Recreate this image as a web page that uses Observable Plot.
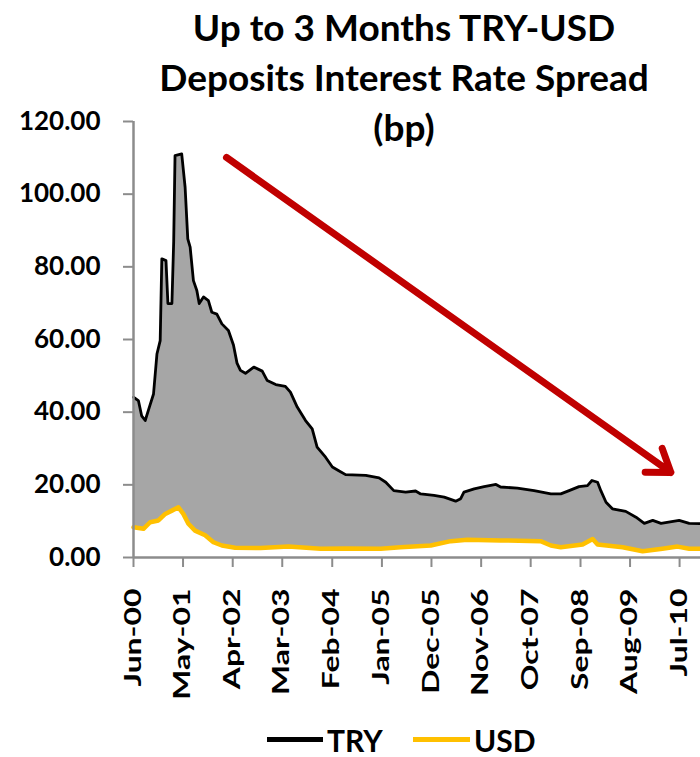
<!DOCTYPE html>
<html>
<head>
<meta charset="utf-8">
<script src="https://cdn.jsdelivr.net/npm/d3@7"></script>
<script src="https://cdn.jsdelivr.net/npm/@observablehq/plot@0.6"></script>
<style>
  body { margin: 0; background: #fff; }
  #wrap { position: relative; width: 700px; height: 757px; overflow: hidden;
          font-family: Lato, "Open Sans", sans-serif; font-weight: 700; color: #000; }
  #chart { position: absolute; left: 0; top: 0; }
  #title { position: absolute; left: 104px; width: 600px; top: 2px; text-align: center;
           font-size: 37px; line-height: 50px; }
  .leg { position: absolute; top: 722px; font-size: 30px; line-height: 36px; white-space: nowrap; }
  .sw { position: absolute; top: 737px; height: 5px; }
</style>
</head>
<body>
<div id="wrap">
  <div id="chart"></div>
  <div id="title">Up to 3 Months TRY-USD<br>Deposits Interest Rate Spread<br>(bp)</div>
  <div class="sw" style="left:267px;width:56px;background:#000;"></div>
  <div class="leg" style="left:327px;">TRY</div>
  <div class="sw" style="left:413px;width:57px;background:#FFC000;"></div>
  <div class="leg" style="left:474px;">USD</div>
</div>
<script>
// ---- data ----
const tryDates = ["2000-06-01","2000-07-04","2000-07-26","2000-08-19","2000-09-16","2000-10-14","2000-11-06","2000-11-28","2000-12-09","2001-01-06","2001-01-19","2001-02-15","2001-02-27","2001-03-08","2001-04-22","2001-05-15","2001-06-02","2001-06-18","2001-07-10","2001-08-02","2001-08-18","2001-09-16","2001-10-19","2001-11-11","2001-12-15","2002-01-18","2002-03-03","2002-04-06","2002-04-30","2002-05-23","2002-06-26","2002-08-21","2002-10-17","2002-11-20","2003-01-16","2003-03-22","2003-04-25","2003-06-10","2003-08-05","2003-09-19","2003-10-22","2003-12-18","2004-02-02","2004-03-16","2004-05-01","2004-09-14","2004-12-13","2005-01-27","2005-03-22","2005-06-10","2005-08-16","2005-09-19","2005-12-18","2006-02-25","2006-05-13","2006-06-16","2006-07-08","2006-09-15","2006-11-21","2007-02-09","2007-03-12","2007-07-03","2007-10-24","2008-02-14","2008-04-21","2008-06-16","2008-08-22","2008-10-18","2008-11-17","2008-12-25","2009-01-16","2009-02-20","2009-04-04","2009-07-03","2009-09-10","2009-11-05","2010-01-01","2010-02-26","2010-06-28","2010-09-04","2010-11-19"];
const tryValues = [44.1,43.2,39.0,37.7,41.4,45.0,56.0,59.7,82.2,81.7,69.9,69.9,87.0,110.6,111.1,101.9,87.7,85.4,76.2,73.5,69.9,71.7,70.7,67.5,67.0,64.3,62.5,58.5,53.5,51.5,50.7,52.4,51.3,48.7,47.6,47.1,45.5,41.4,37.7,35.4,30.4,27.6,24.9,23.9,22.8,22.6,21.9,20.7,18.4,18.0,18.3,17.5,17.1,16.6,15.5,16.2,18.0,18.9,19.5,20.1,19.4,19.1,18.4,17.5,17.5,18.4,19.5,19.8,21.2,20.7,18.4,15.2,13.4,12.7,11.1,9.4,10.2,9.4,10.2,9.4,9.3];

const usdDates = ["2000-06-01","2000-08-07","2000-09-21","2000-11-16","2001-01-01","2001-02-15","2001-03-31","2001-05-03","2001-06-06","2001-07-21","2001-09-27","2001-11-22","2002-01-18","2002-04-17","2002-10-06","2003-04-12","2003-11-15","2004-05-01","2004-12-24","2005-05-06","2005-11-26","2006-04-10","2006-07-31","2007-03-12","2007-12-07","2008-02-14","2008-04-21","2008-09-15","2008-11-22","2008-12-25","2009-06-12","2009-10-25","2010-03-07","2010-06-17","2010-09-04","2010-11-19"];
const usdValues = [8.3,7.9,9.7,10.2,12.0,12.9,13.8,12.0,9.3,7.4,6.1,4.2,3.3,2.7,2.6,3.0,2.4,2.5,2.4,2.8,3.3,4.5,4.9,4.7,4.5,3.3,2.8,3.6,5.1,3.6,2.8,1.7,2.4,3.0,2.4,2.4];

const xTickLabels = ["Jun-00","May-01","Apr-02","Mar-03","Feb-04","Jan-05","Dec-05","Nov-06","Oct-07","Sep-08","Aug-09","Jul-10"];
const yTicks = [0, 20, 40, 60, 80, 100, 120];
const xDomain = ["2000-06-01", "2010-11-19"];

// trend arrow annotation (start / end in data units)
const arrowFrom = ["2002-02-18", 110.1];
const arrowTo = ["2010-05-03", 23.4];

// ---- build ----
const parse = d3.utcParse("%Y-%m-%d");
const TRY = tryDates.map((d, i) => ({date: parse(d), value: tryValues[i]}));
const USD = usdDates.map((d, i) => ({date: parse(d), value: usdValues[i]}));
const tickDates = xTickLabels.map(d3.utcParse("%b-%y"));
const axisColor = "#8c8c8c";

const chart = Plot.plot({
  width: 700,
  height: 757,
  marginLeft: 133,
  marginRight: 0,
  marginTop: 121,
  marginBottom: 200,
  style: {fontFamily: "Lato, 'Open Sans', sans-serif", fontWeight: 700, background: "transparent", color: "#000"},
  x: {type: "utc", domain: xDomain.map(parse)},
  y: {domain: [0, 120]},
  marks: [
    Plot.areaY(TRY, {x: "date", y: "value", fill: "#A6A6A6"}),
    Plot.areaY(USD, {x: "date", y: "value", fill: "#ffffff"}),
    Plot.lineY(TRY, {x: "date", y: "value", stroke: "#000", strokeWidth: 2.8}),
    Plot.lineY(USD, {x: "date", y: "value", stroke: "#FFC000", strokeWidth: 4.5}),
    Plot.ruleX([parse(xDomain[0])], {y1: 0, y2: 120, stroke: axisColor, strokeWidth: 2.5}),
    Plot.ruleY([0], {stroke: axisColor, strokeWidth: 2.5}),
    Plot.axisY({ticks: yTicks, tickFormat: d => d.toFixed(2), tickSize: 10, tickPadding: 23,
                stroke: axisColor, strokeWidth: 2, fill: "#000", fontSize: 26, fontWeight: 700, label: null}),
    Plot.axisX({ticks: tickDates, tickFormat: d3.utcFormat("%b-%y"), tickRotate: -90, tickSize: 10, tickPadding: 21,
                stroke: axisColor, strokeWidth: 2, fill: "#000", fontSize: 22, fontWeight: 700, label: null}),
    Plot.arrow([{x1: parse(arrowFrom[0]), y1: arrowFrom[1], x2: parse(arrowTo[0]), y2: arrowTo[1]}],
               {x1: "x1", y1: "y1", x2: "x2", y2: "y2", stroke: "#C00000", strokeWidth: 7, headLength: 5.5, headAngle: 70})
  ]
});
document.getElementById("chart").appendChild(chart);

// stretch the rotated month labels along their length, as in the reference
chart.querySelectorAll('g[aria-label="x-axis tick label"] text').forEach(t => {
  const tr = t.getAttribute("transform") || "";
  t.setAttribute("transform", tr + " scale(1.45,1)");
});
</script>
</body>
</html>
